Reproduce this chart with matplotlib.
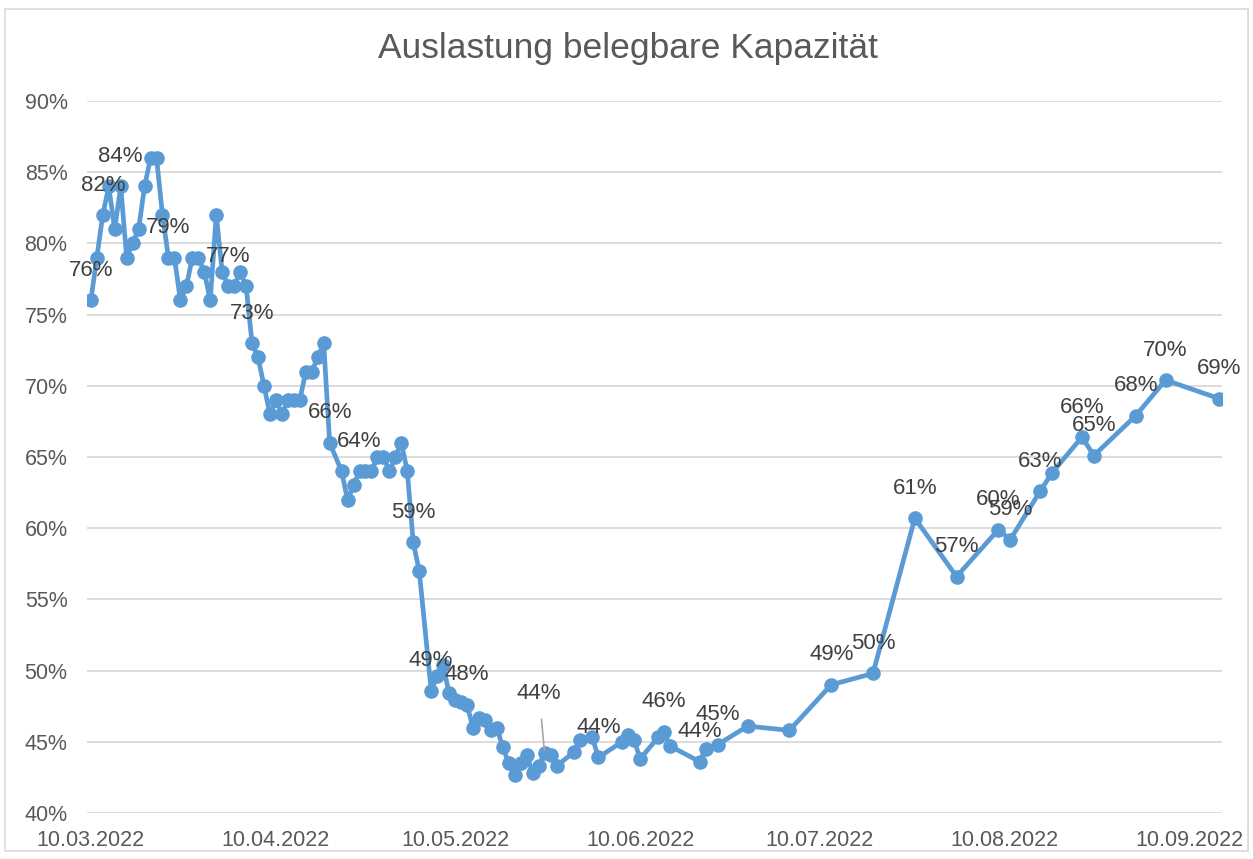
import numpy as np
import pandas as pd
import matplotlib
matplotlib.use('Agg')
import matplotlib.pyplot as plt
import matplotlib.dates as mdates
from matplotlib.ticker import FuncFormatter
from matplotlib.patches import Rectangle

plt.rcParams['font.family'] = ['Liberation Sans', 'DejaVu Sans']

# Tage seit dem 10.03.2022 und Auslastung in %
tage = [0, 1, 2, 3, 4, 5, 6, 7, 8, 9, 10, 11, 12, 13, 14, 15, 16, 17, 18, 19,
        20, 21, 22, 23, 24, 25, 26, 27, 28, 29, 30, 31, 32, 33, 34, 35, 36, 37, 38, 39,
        40, 42, 43, 44, 45, 46, 47, 48, 49, 50, 51, 52, 53, 54, 55,
        57, 58, 59, 60, 61, 62, 63, 64, 65, 66, 67, 68, 69, 70, 71, 72, 73, 74, 75, 76, 77, 78,
        81, 82, 84, 85, 89, 90, 91, 92, 95, 96, 97, 102, 103, 105, 110, 117, 124, 131,
        138, 145, 152, 154, 159, 161, 166, 168, 175, 180, 189]
auslastung = [76, 79, 82, 84, 81, 84, 79, 80, 81, 84, 86, 86, 82, 79, 79, 76, 77, 79, 79, 78,
              76, 82, 78, 77, 77, 78, 77, 73, 72, 70, 68, 69, 68, 69, 69, 69, 71, 71, 72, 73,
              66, 64, 62, 63, 64, 64, 64, 65, 65, 64, 65, 66, 64, 59, 57,
              48.6, 49.6, 50.4, 48.4, 47.9, 47.8, 47.6, 46.0, 46.7, 46.5, 45.8, 46.0, 44.6, 43.5,
              42.7, 43.5, 44.1, 42.8, 43.3, 44.2, 44.1, 43.3,
              44.3, 45.1, 45.3, 43.9, 45.0, 45.5, 45.1, 43.8, 45.3, 45.7, 44.7, 43.6, 44.5, 44.8,
              46.1, 45.8, 49.0, 49.8,
              60.7, 56.6, 59.9, 59.2, 62.6, 63.9, 66.4, 65.1, 67.9, 70.4, 69.1]

# Punkte mit Datenbeschriftung
beschriftet = [0, 2, 5, 13, 23, 27, 40, 45, 54, 57, 63, 76, 85, 96, 102, 105, 124, 131,
               138, 145, 152, 154, 159, 166, 168, 175, 180, 189]
monate = ['2022-03-10', '2022-04-10', '2022-05-10', '2022-06-10', '2022-07-10',
          '2022-08-10', '2022-09-10']

start = pd.Timestamp('2022-03-10')
datum = [start + pd.Timedelta(days=t) for t in tage]

blau = '#5b9bd5'
grau = '#595959'

fig = plt.figure(figsize=(12.53, 8.59), dpi=100)
ax = fig.add_axes([0.0694, 0.0536, 0.9056, 0.8288])

ax.plot(datum, auslastung, color=blau, linewidth=3.4, marker='o', markersize=9.5,
        solid_joinstyle='round', zorder=3)

for t, wert in zip(tage, auslastung):
    if t not in beschriftet:
        continue
    d = start + pd.Timedelta(days=t)
    txt = f'{wert:.0f}%'
    if t == 76:
        # Beschriftung mit Fuehrungslinie
        ax.annotate(txt, (d, wert), xytext=(-4, 43), textcoords='offset points',
                    ha='center', va='center', fontsize=16, color='#404040', zorder=4,
                    arrowprops=dict(arrowstyle='-', color='#a6a6a6', lw=1.2,
                                    shrinkA=9, shrinkB=2))
    else:
        ax.annotate(txt, (d, wert), xytext=(0, 21.5), textcoords='offset points',
                    ha='center', va='center', fontsize=16, color='#404040', zorder=4)

ax.set_ylim(40, 90)
ax.set_yticks(np.arange(40, 91, 5))
ax.yaxis.set_major_formatter(FuncFormatter(lambda v, p: f'{v:.0f}%'))
ax.set_xlim(start - pd.Timedelta(days=0.65), start + pd.Timedelta(days=189.4))
ax.set_xticks(pd.to_datetime(monate))
ax.xaxis.set_major_formatter(mdates.DateFormatter('%d.%m.%Y'))

ax.grid(axis='y', color='#d9d9d9', linewidth=1.3)
ax.set_axisbelow(True)
for s in ax.spines.values():
    s.set_visible(False)
ax.tick_params(axis='both', length=0, labelsize=15.5, labelcolor=grau)
ax.tick_params(axis='y', pad=14)
ax.tick_params(axis='x', pad=12)

fig.text(0.501, 0.944, 'Auslastung belegbare Kapazität', ha='center', va='center',
         fontsize=25.5, color=grau)

fig.patches.append(Rectangle((5 / 1253, 1 - 851 / 859), 1243 / 1253, 842 / 859,
                             transform=fig.transFigure, fill=False,
                             edgecolor='#d9d9d9', linewidth=1.2))

fig.savefig('out.png', dpi=100)
